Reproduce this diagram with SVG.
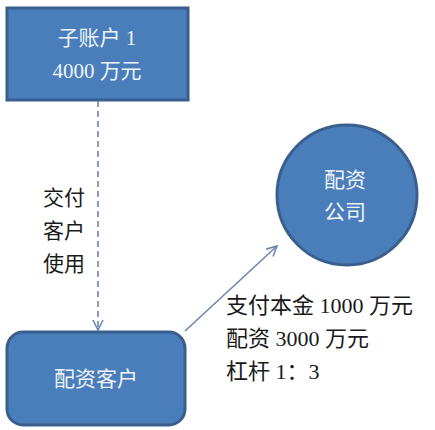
<svg xmlns="http://www.w3.org/2000/svg" width="435" height="430" viewBox="0 0 435 430">
<style>
.shape{fill:#4a7ebb;stroke:#3a5f8e;stroke-width:3}
.wt{fill:#eef3fa;font-family:"Liberation Serif","Noto Sans CJK SC",serif;font-size:21px;text-anchor:middle}
.bt{fill:#1a1a1a;font-family:"Liberation Serif","Noto Sans CJK SC",serif;font-size:21px}
.bt2{font-size:22px}
.conn{fill:none;stroke:#6a87b0;stroke-width:1.6}
</style>
<defs>
<marker id="open" viewBox="0 0 12 12" refX="11" refY="6" markerWidth="12" markerHeight="12" markerUnits="userSpaceOnUse" orient="auto">
<path d="M1,1 L11,6 L1,11" fill="none" stroke="#6a87b0" stroke-width="1.6"/>
</marker>
</defs>
<rect width="435" height="430" fill="#ffffff"/>
<g id="connectors">
<line class="conn" x1="98" y1="101" x2="98" y2="330" stroke-dasharray="6,4" marker-end="url(#open)"/>
<line class="conn" x1="185" y1="331" x2="277" y2="246" marker-end="url(#open)"/>
<g class="bt" text-anchor="start">
<text x="43" y="205">交付</text>
<text x="43" y="238">客户</text>
<text x="43" y="271">使用</text>
</g>
<g class="bt bt2">
<text x="226" y="313">支付本金 1000 万元</text>
<text x="226" y="346">配资 3000 万元</text>
<text x="226" y="379">杠杆 1：3</text>
</g>
</g>
<g id="sub-account">
<rect class="shape" x="7" y="8" width="181" height="92"/>
<text class="wt" x="97" y="45">子账户 1</text>
<text class="wt" x="97" y="78">4000 万元</text>
</g>
<g id="client">
<rect class="shape" x="7" y="332" width="178" height="93" rx="16" ry="16"/>
<text class="wt" x="96" y="386">配资客户</text>
</g>
<g id="company">
<circle class="shape" cx="347" cy="195" r="70"/>
<text class="wt" x="345" y="187">配资</text>
<text class="wt" x="345" y="219">公司</text>
</g>
</svg>
